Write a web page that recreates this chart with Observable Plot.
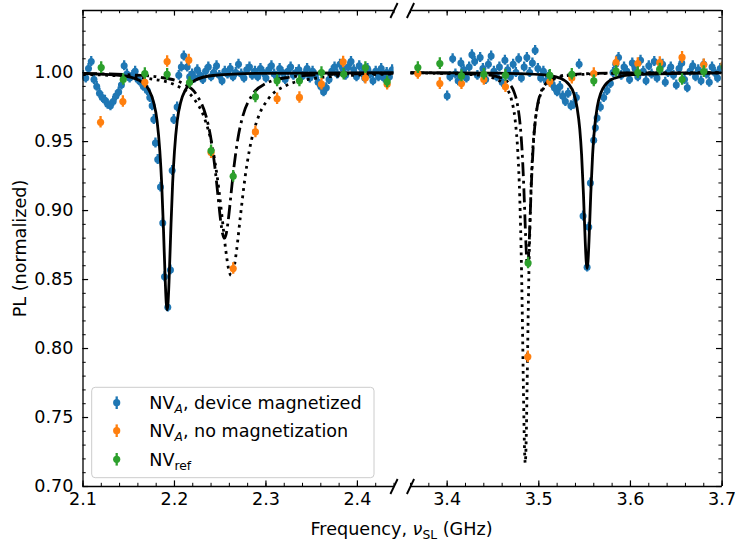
<!DOCTYPE html>
<html><head><meta charset="utf-8">
<script src="https://cdn.jsdelivr.net/npm/d3@7"></script>
<script src="https://cdn.jsdelivr.net/npm/@observablehq/plot@0.6"></script>
<style>
body{margin:0;background:#fff;}
#wrap{position:relative;width:735px;height:544px;font-family:"DejaVu Sans",sans-serif;background:#fff;}
#wrap > svg{position:absolute;top:0;}
</style></head><body><div id="wrap"></div>
<script>
// ---------- data (frequency in GHz, PL normalized) ----------
const blueLeftF = [2.100,2.103,2.106,2.109,2.112,2.115,2.118,2.121,2.124,2.127,2.130,2.133,2.136,2.139,2.142,2.145,2.148,2.151,2.154,2.157,2.160,2.163,2.166,2.1702,2.1730,2.1756,2.1774,2.1792,2.1817,2.1847,2.1872,2.1891,2.1927,2.1956,2.1975,2.1992,2.2029,2.2047,2.2075,2.2102,2.2139,2.2166,2.2193,
2.222,2.225,2.228,2.231,2.234,2.237,2.240,2.243,2.246,2.249,2.252,2.255,2.258,2.261,2.264,2.267,2.270,2.273,2.276,2.279,2.282,2.285,2.288,2.291,2.294,2.297,2.300,2.303,2.306,2.309,2.312,2.315,2.318,2.321,2.324,2.327,2.330,2.333,2.336,2.339,2.342,2.345,2.348,2.351,2.354,2.357,2.360,2.363,2.366,2.369,2.372,2.375,2.378,2.381,2.384,2.387,2.390,2.393,2.396,2.399,2.402,2.405,2.408,2.411,2.414,2.417,2.420,2.423,2.426,2.429,2.432,2.435,2.438];
const blueLeftPL = [0.998,0.996,1.003,1.008,0.995,0.990,0.985,0.982,0.980,0.977,0.976,0.979,0.983,0.986,0.991,1.005,0.999,0.996,0.998,1.001,0.995,0.993,0.990,0.987,0.982,0.976,0.966,0.949,0.937,0.917,0.891,0.852,0.830,0.857,0.929,0.966,0.975,0.998,1.004,1.012,1.004,0.997,0.999,
0.996,1.002,0.998,0.995,1.001,1.004,0.997,1.000,1.005,0.998,0.994,1.001,0.999,1.003,0.997,1.000,1.006,0.999,0.996,1.002,1.004,0.998,1.001,0.997,1.003,1.000,0.996,1.002,1.005,0.999,0.997,1.003,1.000,0.995,1.001,1.004,0.998,1.000,1.002,0.997,0.999,1.003,0.996,1.001,0.998,0.993,0.990,0.986,0.989,0.995,1.001,1.004,0.999,1.006,1.003,0.998,1.004,1.008,1.002,0.997,1.005,1.000,0.996,1.003,0.999,0.994,1.001,0.997,1.003,0.996,1.000,0.997,1.002];

const blueRightF = [3.400,3.403,3.406,3.409,3.412,3.415,3.418,3.421,3.424,3.427,3.430,3.433,3.436,3.439,3.442,3.445,3.448,3.451,3.454,3.457,3.460,3.463,3.466,3.469,3.472,3.475,3.478,3.481,3.484,3.487,3.490,3.493,3.496,3.499,3.502,3.505,3.508,3.511,3.514,3.517,3.520,3.523,3.526,3.529,3.532,3.535,3.538,3.541,3.544,3.5483,3.5527,3.5545,3.5563,3.5599,3.5617,3.5636,3.5672,3.5708,3.5745,3.5781,3.581,3.584,3.587,3.590,3.593,
3.596,3.599,3.602,3.605,3.608,3.611,3.614,3.617,3.620,3.623,3.626,3.629,3.632,3.635,3.638,3.641,3.644,3.647,3.650,3.653,3.656,3.659,3.662,3.665,3.668,3.671,3.674,3.677,3.680,3.683,3.686,3.689,3.692,3.695,3.698];
const blueRightPL = [0.983,0.997,1.010,0.999,0.994,1.007,1.002,0.996,1.004,1.013,1.008,0.998,1.011,1.003,0.995,1.006,1.012,1.001,0.997,1.004,0.993,1.009,1.002,0.997,1.006,1.000,1.010,0.996,1.004,1.011,1.000,1.007,1.016,1.003,0.996,1.001,0.994,0.998,0.992,0.989,0.986,0.990,0.983,0.979,0.985,0.976,0.977,0.982,1.006,0.896,0.859,0.888,0.920,0.951,0.960,0.967,0.975,0.982,0.987,0.992,1.000,1.006,1.011,0.998,1.004,
1.001,0.995,1.007,1.003,0.997,1.009,1.001,0.994,1.005,0.999,1.008,0.996,1.002,1.006,0.993,1.000,1.004,0.998,0.991,1.003,1.007,0.995,0.989,1.001,1.005,0.997,1.002,0.994,1.006,0.999,0.993,1.004,1.000,0.996,1.003];

const orangeLeftF = [2.0955,2.1192,2.1436,2.1676,2.1920,2.2156,2.2400,2.2642,2.2885,2.3122,2.3366,2.3607,2.3844,2.4087,2.4325];
const orangeLeftPL = [0.912,0.964,0.979,0.993,1.008,1.009,0.942,0.858,0.957,0.981,0.982,0.9916,1.0077,0.996,0.9916];
const greenLeftF = [2.1199,2.1440,2.1676,2.1920,2.2164,2.2400,2.2642,2.2885,2.3122,2.3366,2.3607,2.3850,2.4087,2.4325];
const greenLeftPL = [1.0036,0.995,0.9993,0.9988,0.9928,0.9433,0.9248,0.9824,0.994,0.994,1.000,0.9988,1.0036,0.9933];

const orangeRightF = [3.368,3.392,3.4156,3.440,3.4636,3.488,3.512,3.536,3.560,3.5843,3.608,3.632,3.6563,3.680,3.702];
const orangeRightPL = [0.9993,0.992,0.992,0.995,0.9897,0.794,0.9935,0.996,0.9993,1.0072,1.0065,1.0072,1.011,1.0056,1.006];
const greenRightF = [3.368,3.392,3.4156,3.440,3.4636,3.4883,3.512,3.536,3.560,3.5843,3.608,3.632,3.6563,3.680,3.702];
const greenRightPL = [1.0036,1.0065,0.9976,0.9988,0.998,0.862,0.998,0.9988,0.994,1.001,1.000,1.0025,0.995,1.0007,1.004];

// fit curves
const solidLeftF = [2.100,2.142,2.162,2.172,2.177,2.181,2.184,2.186,2.188,2.190,2.191,2.192,2.193,2.194,2.196,2.198,2.200,2.203,2.207,2.212,2.222,2.242,2.290,2.440];
const solidLeftPL = [0.9993,0.9979,0.9942,0.9875,0.9790,0.9650,0.9430,0.9200,0.8860,0.8475,0.8333,0.8280,0.8333,0.8475,0.8860,0.9200,0.9430,0.9650,0.9790,0.9875,0.9942,0.9979,0.9994,0.9999];
const dottedLeftF = [2.100,2.132,2.172,2.202,2.222,2.232,2.242,2.247,2.252,2.256,2.259,2.262,2.265,2.268,2.272,2.277,2.282,2.292,2.302,2.322,2.352,2.392,2.440];
const dottedLeftPL = [0.9986,0.9979,0.9957,0.9906,0.9804,0.9684,0.9440,0.9232,0.8954,0.8717,0.8582,0.8530,0.8582,0.8717,0.8954,0.9232,0.9440,0.9684,0.9804,0.9906,0.9957,0.9979,0.9989];
const dashdotLeftF = [2.100,2.1546,2.1846,2.2096,2.2246,2.2346,2.2396,2.2446,2.2476,2.2506,2.2526,2.2546,2.2566,2.2586,2.2616,2.2646,2.2696,2.2746,2.2846,2.2996,2.3246,2.3546,2.4046,2.440];
const dashdotLeftPL = [0.9993,0.9983,0.9966,0.9920,0.9834,0.9682,0.9532,0.9292,0.9104,0.8920,0.8832,0.8800,0.8832,0.8920,0.9104,0.9292,0.9532,0.9682,0.9834,0.9920,0.9966,0.9983,0.9992,0.9995];

const solidRightF = [3.360,3.450,3.503,3.523,3.533,3.538,3.5417,3.5447,3.5467,3.5487,3.5507,3.5517,3.5527,3.5537,3.5547,3.5567,3.5587,3.5607,3.5637,3.5677,3.5727,3.5827,3.6027,3.700];
const solidRightPL = [0.9999,0.9996,0.9985,0.9960,0.9913,0.9853,0.9749,0.9590,0.9404,0.9121,0.8769,0.8633,0.8580,0.8633,0.8769,0.9121,0.9404,0.9590,0.9749,0.9853,0.9913,0.9960,0.9985,0.9998];
const dottedRightF = [3.360,3.385,3.435,3.455,3.465,3.4702,3.4742,3.4772,3.4792,3.4812,3.4822,3.4832,3.4842,3.4852,3.4862,3.4872,3.4882,3.4892,3.4912,3.4932,3.4962,3.5002,3.5052,3.5152,3.5352,3.5852,3.700];
const dottedRightPL = [0.9997,0.9995,0.9981,0.9948,0.9886,0.9803,0.9655,0.9412,0.9100,0.8550,0.8157,0.7714,0.7329,0.7170,0.7329,0.7714,0.8157,0.8550,0.9100,0.9412,0.9655,0.9803,0.9886,0.9948,0.9981,0.9995,0.9999];
const dashdotRightF = [3.360,3.3877,3.4377,3.4577,3.4677,3.4727,3.4767,3.4797,3.4817,3.4837,3.4857,3.4867,3.4877,3.4887,3.4897,3.4917,3.4937,3.4957,3.4987,3.5027,3.5077,3.5177,3.5377,3.5877,3.700];
const dashdotRightPL = [0.9998,0.9997,0.9987,0.9964,0.9921,0.9865,0.9768,0.9618,0.9440,0.9160,0.8800,0.8656,0.8600,0.8656,0.8800,0.9160,0.9440,0.9618,0.9768,0.9865,0.9921,0.9964,0.9987,0.9997,0.9999];

// axis ticks
const xDomainLeft = [2.10, 2.44];
const xDomainRight = [3.36, 3.70];
const xMajorLeft = [2.1, 2.2, 2.3, 2.4];
const xMajorRight = [3.4, 3.5, 3.6, 3.7];
const xMinorLeft = [2.10,2.12,2.14,2.16,2.18,2.20,2.22,2.24,2.26,2.28,2.30,2.32,2.34,2.36,2.38,2.40,2.42,2.44];
const xMinorRight = [3.36,3.38,3.40,3.42,3.44,3.46,3.48,3.50,3.52,3.54,3.56,3.58,3.60,3.62,3.64,3.66,3.68,3.70];
const yDomain = [0.70, 1.045];
const yMajor = [0.70, 0.75, 0.80, 0.85, 0.90, 0.95, 1.00];
const yMinor = [0.70,0.71,0.72,0.73,0.74,0.75,0.76,0.77,0.78,0.79,0.80,0.81,0.82,0.83,0.84,0.85,0.86,0.87,0.88,0.89,0.90,0.91,0.92,0.93,0.94,0.95,0.96,0.97,0.98,0.99,1.00,1.01,1.02,1.03,1.04];

const seriesNames = ["NV_A, device magnetized", "NV_A, no magnetization", "NV_ref"];
const colors = ["#1f77b4", "#ff7f0e", "#2ca02c"];
const errBlue = 0.0036, errOrange = 0.0042, errGreen = 0.0042;

// ---------- drawing ----------
const FS = 17.6;
const H = 544, mT = 10, mB = 58;
const zip = (F, P) => F.map((f, i) => ({f, pl: P[i]}));
const slash = {draw(ctx) { ctx.moveTo(-3.6, 7.5); ctx.lineTo(3.6, -7.5); }};
const MAJ = 5.6, MIN = 3.2;

function panel(c) {
  const innerW = c.width - c.mL - c.mR, innerH = H - mT - mB;
  const spineX = c.side === "left" ? c.xDomain[0] : c.xDomain[1];
  const breakX = c.side === "left" ? c.xDomain[1] : c.xDomain[0];
  const tk = {stroke: "black"};
  const marks = [
    Plot.ruleX(zip(c.blueF, c.bluePL), {x: "f", y1: d => d.pl - errBlue, y2: d => d.pl + errBlue, stroke: colors[0], strokeWidth: 2.3, clip: true}),
    Plot.dot(zip(c.blueF, c.bluePL), {x: "f", y: "pl", r: 3.5, fill: colors[0], clip: true}),
    Plot.line(zip(c.solidF, c.solidPL), {x: "f", y: "pl", curve: "monotone-x", stroke: "black", strokeWidth: 2.8, strokeLinecap: "butt", clip: true}),
    Plot.line(zip(c.dottedF, c.dottedPL), {x: "f", y: "pl", curve: "monotone-x", stroke: "black", strokeWidth: 2.8, strokeLinecap: "butt", strokeDasharray: "2.8,4.6", clip: true}),
    Plot.line(zip(c.dashdotF, c.dashdotPL), {x: "f", y: "pl", curve: "monotone-x", stroke: "black", strokeWidth: 2.8, strokeLinecap: "butt", strokeDasharray: "14,4.6,2.8,4.6", clip: true}),
    Plot.ruleX(zip(c.orF, c.orPL), {x: "f", y1: d => d.pl - errOrange, y2: d => d.pl + errOrange, stroke: colors[1], strokeWidth: 2.3, clip: true}),
    Plot.dot(zip(c.orF, c.orPL), {x: "f", y: "pl", r: 3.6, fill: colors[1], clip: true}),
    Plot.ruleX(zip(c.grF, c.grPL), {x: "f", y1: d => d.pl - errGreen, y2: d => d.pl + errGreen, stroke: colors[2], strokeWidth: 2.3, clip: true}),
    Plot.dot(zip(c.grF, c.grPL), {x: "f", y: "pl", r: 3.6, fill: colors[2], clip: true}),
    Plot.tickX(c.xMinor, {x: d => d, insetTop: innerH - MIN, strokeWidth: 1, ...tk}),
    Plot.tickX(c.xMajor, {x: d => d, insetTop: innerH - MAJ, strokeWidth: 1.2, ...tk}),
    Plot.tickX(c.xMinor, {x: d => d, insetBottom: innerH - MIN, strokeWidth: 1, ...tk}),
    Plot.tickX(c.xMajor, {x: d => d, insetBottom: innerH - MAJ, strokeWidth: 1.2, ...tk}),
    c.side === "left"
      ? Plot.tickY(yMinor, {y: d => d, insetRight: innerW - MIN, strokeWidth: 1, ...tk})
      : Plot.tickY(yMinor, {y: d => d, insetLeft: innerW - MIN, strokeWidth: 1, ...tk}),
    c.side === "left"
      ? Plot.tickY(yMajor, {y: d => d, insetRight: innerW - MAJ, strokeWidth: 1.2, ...tk})
      : Plot.tickY(yMajor, {y: d => d, insetLeft: innerW - MAJ, strokeWidth: 1.2, ...tk}),
    Plot.ruleY([yDomain[0], yDomain[1]], {stroke: "black", strokeWidth: 1.3}),
    Plot.ruleX([spineX], {stroke: "black", strokeWidth: 1.3}),
    Plot.dot([[breakX, yDomain[0]], [breakX, yDomain[1]]], {symbol: slash, r: 5, stroke: "black", strokeWidth: 1.9, fill: "none"}),
    Plot.axisX({ticks: c.xMajor, tickSize: 0, tickPadding: 6, tickFormat: ".1f", label: null})
  ];
  if (c.side === "left") {
    marks.push(Plot.axisY({ticks: yMajor, tickSize: 0, tickPadding: 9.5, tickFormat: ".2f", label: null}));
  }
  return Plot.plot({
    width: c.width, height: H,
    marginTop: mT, marginBottom: mB, marginLeft: c.mL, marginRight: c.mR,
    x: {domain: c.xDomain, axis: null, label: null},
    y: {domain: yDomain, axis: null, label: null},
    style: {fontFamily: "DejaVu Sans", fontSize: FS + "px", color: "black", background: "transparent", overflow: "visible"},
    marks
  });
}

const left = panel({side: "left", width: 400, mL: 82.5, mR: 6.5, xDomain: xDomainLeft, xMajor: xMajorLeft, xMinor: xMinorLeft,
  blueF: blueLeftF, bluePL: blueLeftPL, orF: orangeLeftF, orPL: orangeLeftPL, grF: greenLeftF, grPL: greenLeftPL,
  solidF: solidLeftF, solidPL: solidLeftPL, dottedF: dottedLeftF, dottedPL: dottedLeftPL, dashdotF: dashdotLeftF, dashdotPL: dashdotLeftPL});
const right = panel({side: "right", width: 335, mL: 10, mR: 13.4, xDomain: xDomainRight, xMajor: xMajorRight, xMinor: xMinorRight,
  blueF: blueRightF, bluePL: blueRightPL, orF: orangeRightF, orPL: orangeRightPL, grF: greenRightF, grPL: greenRightPL,
  solidF: solidRightF, solidPL: solidRightPL, dottedF: dottedRightF, dottedPL: dottedRightPL, dashdotF: dashdotRightF, dashdotPL: dashdotRightPL});

const wrap = document.getElementById("wrap");
left.style.left = "0px";
right.style.left = "400px";
wrap.appendChild(left);
wrap.appendChild(right);

// overlay: axis titles and legend
const ov = d3.select(wrap).append("svg")
  .attr("width", 735).attr("height", 544)
  .style("left", "0px").style("pointer-events", "none")
  .attr("font-family", "DejaVu Sans").attr("font-size", FS).attr("fill", "black");

const xl = ov.append("text").attr("x", 401.5).attr("y", 535).attr("text-anchor", "middle");
xl.append("tspan").text("Frequency, ");
xl.append("tspan").attr("font-style", "italic").text("ν");
xl.append("tspan").attr("font-size", 12.3).attr("dy", 3.8).text("SL");
xl.append("tspan").attr("dy", -3.8).text(" (GHz)");

ov.append("text").attr("transform", "translate(25.5,248.5) rotate(-90)").attr("text-anchor", "middle").text("PL (normalized)");

const lg = ov.append("g");
lg.append("rect").attr("x", 91.7).attr("y", 387.3).attr("width", 282.3).attr("height", 90.4).attr("rx", 3.5)
  .attr("fill", "white").attr("fill-opacity", 0.8).attr("stroke", "#cccccc").attr("stroke-width", 1);
const rowY = [402.7, 430.7, 459.3];
seriesNames.forEach((name, i) => {
  const y = rowY[i];
  lg.append("line").attr("x1", 116.7).attr("x2", 116.7).attr("y1", y - 6.3).attr("y2", y + 6.3).attr("stroke", colors[i]).attr("stroke-width", 2.3);
  lg.append("circle").attr("cx", 116.7).attr("cy", y).attr("r", 3.6).attr("fill", colors[i]);
  const t = lg.append("text").attr("x", 149.3).attr("y", y + 6.2);
  const [base, rest] = name.split("_");
  t.append("tspan").text(base);
  const sub = rest.split(",")[0];
  const tail = rest.slice(sub.length);
  const s = t.append("tspan").attr("font-size", 12.3).attr("dy", 4).text(sub);
  if (sub === "A") s.attr("font-style", "italic");
  if (tail) t.append("tspan").attr("dy", -4).text(tail);
});
</script>
</body></html>
